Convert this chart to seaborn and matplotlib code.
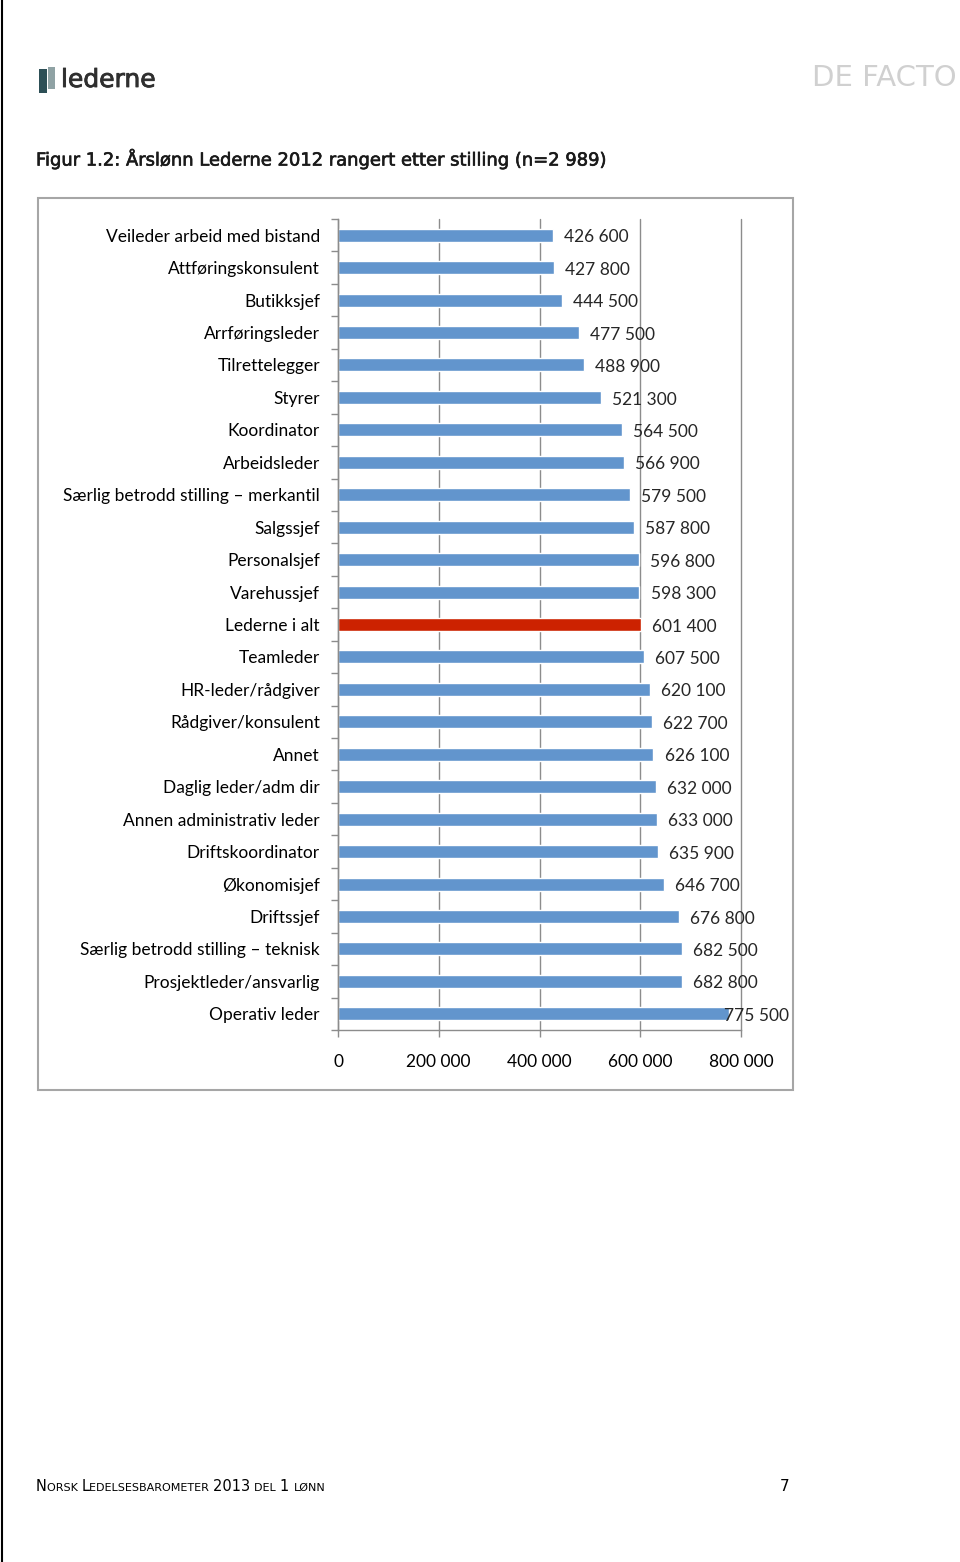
import matplotlib
matplotlib.use("Agg")
import matplotlib.pyplot as plt
import matplotlib.patheffects as pe
import seaborn as sns
import pandas as pd
from matplotlib.patches import Rectangle
from matplotlib.lines import Line2D
from matplotlib.ticker import FuncFormatter, MultipleLocator

# ----------------------------------------------------------
# DATA
# ----------------------------------------------------------

stillinger = [
    "Veileder arbeid med bistand",
    "Attføringskonsulent",
    "Butikksjef",
    "Arrføringsleder",
    "Tilrettelegger",
    "Styrer",
    "Koordinator",
    "Arbeidsleder",
    "Særlig betrodd stilling – merkantil",
    "Salgssjef",
    "Personalsjef",
    "Varehussjef",
    "Lederne i alt",
    "Teamleder",
    "HR-leder/rådgiver",
    "Rådgiver/konsulent",
    "Annet",
    "Daglig leder/adm dir",
    "Annen administrativ leder",
    "Driftskoordinator",
    "Økonomisjef",
    "Driftssjef",
    "Særlig betrodd stilling – teknisk",
    "Prosjektleder/ansvarlig",
    "Operativ leder",
]

lonn = [
    426600, 427800, 444500, 477500, 488900, 521300, 564500, 566900,
    579500, 587800, 596800, 598300, 601400, 607500, 620100, 622700,
    626100, 632000, 633000, 635900, 646700, 676800, 682500, 682800,
    775500,
]

x_ticks = [0, 200000, 400000, 600000, 800000]

title = "Figur 1.2: Årslønn Lederne 2012 rangert etter stilling (n=2 989)"

blue = "#6295cd"
red = "#cc2200"
colors = [red if s == "Lederne i alt" else blue for s in stillinger]

df = pd.DataFrame({"stilling": stillinger, "lonn": lonn})


def fmt(v):
    return f"{int(v):,}".replace(",", " ")


# ----------------------------------------------------------
# FIGURE
# ----------------------------------------------------------

sns.set_style("white")
plt.rcParams["font.family"] = ["Lato", "DejaVu Sans"]

W, H = 960, 1562
fig = plt.figure(figsize=(W / 100, H / 100), dpi=100)


def fx(px):
    return px / W


def fy(py):
    return 1 - py / H


# page border on the left
fig.add_artist(Line2D([fx(2), fx(2)], [0, 1], color="black", lw=1.5))

# chart frame
fig.add_artist(Rectangle((fx(38), fy(1090)), fx(793) - fx(38), fy(198) - fy(1090),
                         fill=False, edgecolor="#a6a6a6", lw=1.5))

ax = fig.add_axes([fx(338), fy(1030), fx(741) - fx(338), fy(219) - fy(1030)])

sns.barplot(data=df, x="lonn", y="stilling", hue="stilling", palette=colors,
            legend=False, width=0.4, orient="h", ax=ax, saturation=1)

ax.set_xlim(0, 800000)
ax.set_ylim(len(stillinger) - 0.5, -0.5)
ax.set_xlabel("")
ax.set_ylabel("")

ax.set_xticks(x_ticks)
ax.xaxis.set_major_formatter(FuncFormatter(lambda v, p: fmt(v)))
ax.yaxis.set_minor_locator(MultipleLocator(1, offset=0.5))

ax.grid(axis="x", color="#8c8c8c", lw=1)
ax.set_axisbelow(True)
for gl in ax.get_xgridlines():
    gl.set_clip_on(False)

for side in ["top", "right"]:
    ax.spines[side].set_visible(False)
for side in ["left", "bottom"]:
    ax.spines[side].set_color("#8c8c8c")
    ax.spines[side].set_linewidth(1)

ax.tick_params(axis="x", which="major", length=5, width=1, color="#8c8c8c",
               pad=12, labelsize=12.5, labelcolor="black", direction="out", bottom=True)
ax.tick_params(axis="y", which="major", length=0, pad=13, labelsize=12.5, labelcolor="black")
ax.tick_params(axis="y", which="minor", length=5, width=1, color="#8c8c8c",
               direction="out", left=True)

# value labels; the widest one sits on the bar end like in Excel
for i, v in enumerate(lonn):
    off = -3 if v > 0.95 * max(x_ticks) else 8
    ax.annotate(fmt(v), xy=(v, i), xytext=(off, -1.5), textcoords="offset points",
                va="center", ha="left", fontsize=12.5, annotation_clip=False)

# ----------------------------------------------------------
# PAGE TEXT
# ----------------------------------------------------------

# lederne logo
fig.add_artist(Rectangle((fx(39), fy(93)), fx(8), fy(69) - fy(93), color="#2d4f56", lw=0))
fig.add_artist(Rectangle((fx(48), fy(89)), fx(7), fy(67) - fy(89), color="#8fa2a4", lw=0))
fig.text(fx(61), fy(80), "lederne", fontsize=18, color="#2f2f2f",
         va="center", ha="left", family=["DejaVu Sans"],
         path_effects=[pe.withStroke(linewidth=0.6, foreground="#2f2f2f")])

fig.text(fx(957), fy(78), "DE FACTO", fontsize=21, color="#d0d0d0",
         va="center", ha="right", family=["DejaVu Sans"])

fig.text(fx(36), fy(159), title, fontsize=12.9, color="#1a1a1a",
         va="center", ha="left", family=["DejaVu Sans"],
         path_effects=[pe.withStroke(linewidth=0.45, foreground="#1a1a1a")])

# footer in small caps
renderer = fig.canvas.get_renderer()
parts = [("N", 10.5), ("ORSK ", 8), ("L", 10.5), ("EDELSESBAROMETER ", 8),
         ("2013 ", 10.5), ("DEL ", 8), ("1 ", 10.5), ("LØNN", 8)]
x_pos = fx(36)
for txt, size in parts:
    t = fig.text(x_pos, fy(1491), txt, fontsize=size, color="black",
                 va="baseline", ha="left", family=["DejaVu Sans"])
    bb = t.get_window_extent(renderer=renderer)
    x_pos += bb.width / W

fig.text(fx(785), fy(1491), "7", fontsize=11, color="black",
         va="baseline", ha="center", family=["DejaVu Sans"])

fig.savefig("out.png", dpi=100)
